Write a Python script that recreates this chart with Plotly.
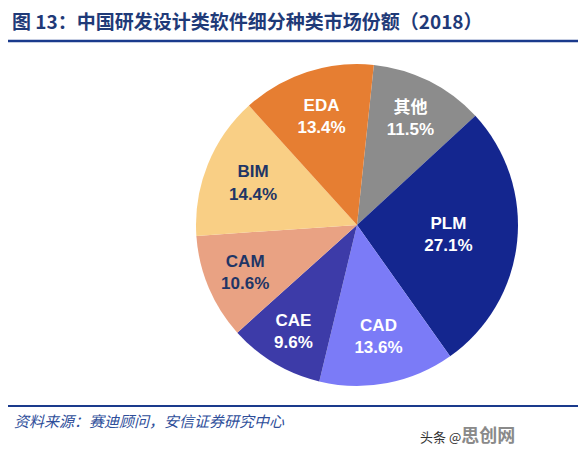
import plotly.graph_objects as go

categories = ["其他", "PLM", "CAD", "CAE", "CAM", "BIM", "EDA"]
shares = [11.5, 27.1, 13.6, 9.6, 10.6, 14.4, 13.4]
slice_colors = ["#8C8C8C", "#14268F", "#7B7BF7", "#3D3BA8", "#E9A283", "#F9CF85", "#E67E32"]
text_colors = ["white", "white", "white", "white", "#1F3566", "#1F3566", "white"]

labels_text = [f"<b>{c}<br>{v:.1f}%</b>" for c, v in zip(categories, shares)]

fig = go.Figure()
fig.add_trace(go.Pie(
    labels=categories,
    values=shares,
    text=labels_text,
    textinfo="text",
    textposition="inside",
    insidetextorientation="horizontal",
    sort=False,
    direction="clockwise",
    rotation=6,
    marker=dict(colors=slice_colors, line=dict(width=0)),
    textfont=dict(family="Arial, 'Noto Sans CJK SC'", size=17, color=text_colors),
    domain=dict(x=[196/578, 518/578], y=[1-386/450, 1-64/450]),
    showlegend=False,
    hoverinfo="label+percent",
))

fig.update_layout(
    width=578, height=450,
    margin=dict(l=0, r=0, t=0, b=0),
    paper_bgcolor="white",
    plot_bgcolor="white",
    uniformtext=dict(minsize=17, mode="show"),
    shapes=[
        dict(type="line", xref="paper", yref="paper", x0=8/578, x1=1, y0=1-41/450, y1=1-41/450,
             line=dict(color="#1A3A8C", width=2.5)),
        dict(type="line", xref="paper", yref="paper", x0=8/578, x1=1, y0=1-406/450, y1=1-406/450,
             line=dict(color="#1A3A8C", width=2)),
    ],
    annotations=[
        dict(text="<b>图 13：中国研发设计类软件细分种类市场份额（2018）</b>",
             xref="paper", yref="paper", x=10/578, y=1-21/450, xanchor="left", yanchor="middle",
             showarrow=False, font=dict(family="'Noto Sans CJK SC'", size=19, color="#1F3A78")),
        dict(text="<i>资料来源：赛迪顾问，安信证券研究中心</i>",
             xref="paper", yref="paper", x=12/578, y=1-420/450, xanchor="left", yanchor="middle",
             showarrow=False, font=dict(family="'Noto Sans CJK SC'", size=15, color="#2E4E9A")),
        dict(text="头条 @<b><span style='color:#8A8A8A;font-size:18px'>思创网</span></b>",
             xref="paper", yref="paper", x=517/578, y=1-434/450, xanchor="right", yanchor="middle",
             showarrow=False, font=dict(family="'Noto Sans CJK SC'", size=13, color="#333333")),
    ],
)

fig.write_html("out.html")
